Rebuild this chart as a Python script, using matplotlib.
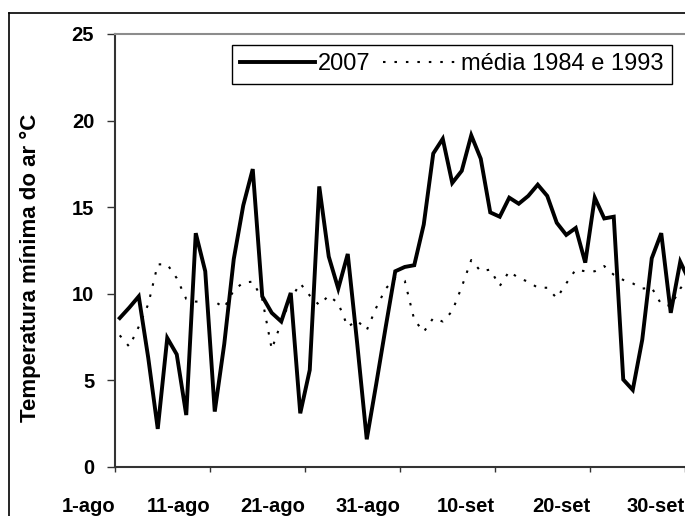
import numpy as np
import matplotlib.pyplot as plt
from matplotlib.lines import Line2D

# temperatura minima diaria, 1-ago ate 30-set (indice 0 = 1-ago)
t2007 = [8.6, 9.2, 9.85, 6.3, 2.2, 7.45, 6.5, 3.0, 13.5, 11.3,
         3.2, 7.1, 12.0, 15.1, 17.2, 9.85, 8.9, 8.4, 10.05, 3.1,
         5.6, 16.2, 12.15, 10.3, 12.3, 7.1, 1.6, 4.8, 8.1, 11.3,
         11.55, 11.65, 14.0, 18.1, 18.95, 16.4, 17.1, 19.15, 17.8, 14.7,
         14.45, 15.55, 15.2, 15.65, 16.3, 15.65, 14.1, 13.4, 13.8, 11.8,
         15.55, 14.35, 14.45, 5.05, 4.45, 7.35, 12.05, 13.5, 8.9, 11.85,
         10.7]
media = [7.6, 6.95, 8.1, 9.4, 11.7, 11.7, 10.9, 9.7, 9.55, 9.55,
         9.55, 9.2, 10.2, 10.65, 10.7, 9.7, 6.8, 8.35, 9.7, 10.6,
         9.9, 9.35, 9.9, 9.45, 8.1, 8.45, 7.9, 9.2, 10.3, 10.9,
         10.75, 8.5, 7.8, 8.6, 8.4, 9.0, 10.4, 11.95, 11.3, 11.4,
         10.45, 11.3, 10.9, 10.7, 10.35, 10.35, 9.75, 10.6, 11.4, 11.3,
         11.3, 11.6, 11.1, 10.8, 10.6, 10.3, 10.35, 9.4, 9.3, 10.3,
         11.0]
dias = np.arange(len(t2007))
rotulos_x = ["1-ago", "11-ago", "21-ago", "31-ago", "10-set", "20-set", "30-set"]
ticks_y = [0, 5, 10, 15, 20, 25]

plt.rcParams['font.family'] = ['Liberation Sans', 'DejaVu Sans']

W, H = 685, 516
fig = plt.figure(figsize=(W / 100, H / 100), dpi=100)
ax = fig.add_axes([115 / W, (H - 467) / H, 570 / W, 433 / H])

ax.plot(dias, t2007, color='black', lw=2.8, solid_joinstyle='miter',
        label='2007')
ax.plot(dias, media, color='black', lw=1.5, linestyle=(0, (1.2, 4.3)),
        label='média 1984 e 1993')

ax.set_xlim(-0.5, 59.5)
ax.set_ylim(0, 25)

# rotulos ficam alinhados a direita de cada marca
pos_x = [-0.5 + 10 * k for k in range(len(rotulos_x))]
ax.set_xticks(pos_x)
ax.set_xticklabels(rotulos_x, ha='right', fontsize=14.5, fontweight='bold')
ax.set_yticks(ticks_y)
ax.set_yticklabels([str(v) for v in ticks_y], fontsize=14.5, fontweight='bold')
ax.tick_params(axis='x', direction='out', length=3.6, width=1, color='#333333',
               pad=18)
ax.tick_params(axis='y', direction='out', length=5.5, width=1, color='#333333',
               pad=9.5)

ax.spines['right'].set_visible(False)
ax.spines['top'].set_color('#8c8c8c')
ax.spines['top'].set_linewidth(1.5)
ax.spines['left'].set_color('#333333')
ax.spines['left'].set_linewidth(1.5)
ax.spines['bottom'].set_color('#333333')
ax.spines['bottom'].set_linewidth(1.5)

fig.text(30 / W, 1 - 268 / H, 'Temperatura mínima do ar °C', rotation=90,
         ha='center', va='center', fontsize=16, fontweight='bold')

leg = ax.legend(ncol=2, loc='upper right',
                bbox_to_anchor=((672 - 115) / 570, (467 - 45) / 433),
                borderaxespad=0, fontsize=17, handlelength=3.2,
                handletextpad=0.1, columnspacing=0.55, borderpad=0.35,
                fancybox=False, framealpha=1, edgecolor='black')
leg.get_frame().set_linewidth(1.0)

# borda da area do grafico
fig.add_artist(Line2D([8.7 / W, 1], [1 - 13 / H, 1 - 13 / H], color='black',
                      lw=1.2, transform=fig.transFigure))
fig.add_artist(Line2D([8.7 / W, 8.7 / W], [0, 1 - 13 / H], color='black',
                      lw=1.2, transform=fig.transFigure))

fig.savefig('out.png', dpi=100)
